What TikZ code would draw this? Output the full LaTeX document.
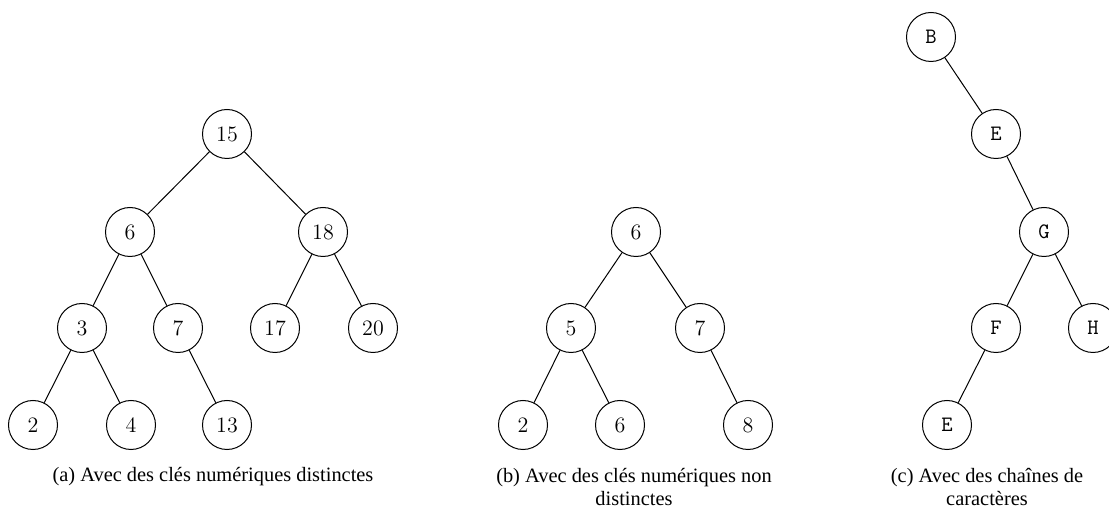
\documentclass[tikz,border=0pt]{standalone}
\usepackage{fontspec}
\newfontfamily\capfont{Liberation Serif}
\begin{document}
\begin{tikzpicture}[x=0.5pt,y=-0.5pt,
  nd/.style={draw,circle,minimum size=24.5pt,inner sep=0pt,line width=0.5pt,font=\fontsize{11}{13}\selectfont},
  ch/.style={nd,font=\ttfamily\fontsize{11}{13}\selectfont},
  captxt/.style={font=\capfont\fontsize{10.2}{11.6}\selectfont,align=center,inner sep=0pt},
  edge/.style={line width=0.5pt}]
\useasboundingbox (0,0) rectangle (1109,507);
% (a)
\node[nd] (a15) at (227,134) {15};
\node[nd] (a6)  at (130,232) {6};
\node[nd] (a18) at (323,232) {18};
\node[nd] (a3)  at (82,328) {3};
\node[nd] (a7)  at (178,328) {7};
\node[nd] (a17) at (275,328) {17};
\node[nd] (a20) at (373,328) {20};
\node[nd] (a2)  at (33,425) {2};
\node[nd] (a4)  at (131,425) {4};
\node[nd] (a13) at (227,425) {13};
\draw[edge] (a15)--(a6) (a15)--(a18) (a6)--(a3) (a6)--(a7) (a18)--(a17) (a18)--(a20)
  (a3)--(a2) (a3)--(a4) (a7)--(a13);
\node[captxt] (capa) at (213,477) {(a) Avec des clés numériques distinctes};
% (b)
\node[nd] (b6)  at (636,232) {6};
\node[nd] (b5)  at (571,328) {5};
\node[nd] (b7)  at (700,328) {7};
\node[nd] (b2)  at (523,425) {2};
\node[nd] (b6b) at (620,425) {6};
\node[nd] (b8)  at (748,425) {8};
\draw[edge] (b6)--(b5) (b6)--(b7) (b5)--(b2) (b5)--(b6b) (b7)--(b8);
\node[captxt] (capb) at (634,487) {(b) Avec des clés numériques non\\distinctes};
% (c)
\node[ch] (cB) at (931,37) {B};
\node[ch] (cE) at (996,134) {E};
\node[ch] (cG) at (1044,232) {G};
\node[ch] (cF) at (996,328) {F};
\node[ch] (cH) at (1093,328) {H};
\node[ch] (cE2) at (947,425) {E};
\draw[edge] (cB)--(cE) (cE)--(cG) (cG)--(cF) (cG)--(cH) (cF)--(cE2);
\node[captxt] (capc) at (987,487) {(c) Avec des chaînes de\\caractères};
\end{tikzpicture}
\end{document}
